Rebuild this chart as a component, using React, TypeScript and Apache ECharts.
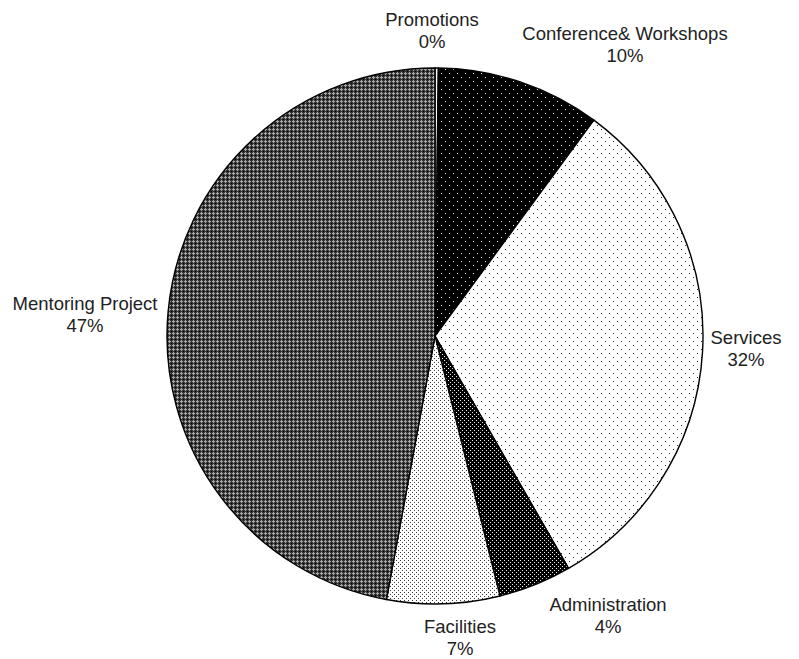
import React, { useEffect, useRef } from "react";
import * as echarts from "echarts";

const categories = [
  "Promotions",
  "Conference& Workshops",
  "Services",
  "Administration",
  "Facilities",
  "Mentoring Project",
];
const values = [0.2, 9.9, 31.6, 4.4, 6.8, 47.1];

// label anchor points (layout only)
const labelAnchors: [number, number][] = [
  [432, 30],
  [625, 44],
  [746, 348],
  [608, 615],
  [460, 637],
  [85, 314],
];

type Dot = [number, number];
function makeTile(size: number, bg: string, fg: string, dots: Dot[]) {
  const c = document.createElement("canvas");
  c.width = size;
  c.height = size;
  const ctx = c.getContext("2d")!;
  ctx.fillStyle = bg;
  ctx.fillRect(0, 0, size, size);
  ctx.fillStyle = fg;
  dots.forEach(([x, y]) => ctx.fillRect(x, y, 1, 1));
  return { image: c, repeat: "repeat", imageWidth: size, imageHeight: size } as any;
}

function makeMentoring() {
  const c = document.createElement("canvas");
  c.width = 4;
  c.height = 4;
  const ctx = c.getContext("2d")!;
  const map = ["DLDD", "LLLD", "DLDD", "DDDK"];
  const col: Record<string, string> = { D: "#333333", L: "#a8a8a8", K: "#000000" };
  map.forEach((row, y) =>
    row.split("").forEach((ch, x) => {
      ctx.fillStyle = col[ch];
      ctx.fillRect(x, y, 1, 1);
    })
  );
  return { image: c, repeat: "repeat", imageWidth: 4, imageHeight: 4 } as any;
}

export default function App() {
  const ref = useRef<HTMLDivElement>(null);
  useEffect(() => {
    if (!ref.current) return;
    const chart = echarts.init(ref.current, undefined, { renderer: "svg" });
    const patterns = [
      "#ffffff",
      makeTile(8, "#000000", "#f0f0f0", [[1, 1], [5, 5]]),
      makeTile(8, "#ffffff", "#2a2a2a", [[1, 1], [5, 5]]),
      makeTile(4, "#000000", "#e8e8e8", [[0, 0], [2, 2]]),
      makeTile(4, "#ffffff", "#3a3a3a", [[0, 0], [2, 2]]),
      makeMentoring(),
    ];
    chart.setOption({
      animation: false,
      backgroundColor: "#ffffff",
      series: [
        {
          type: "pie",
          center: [435, 336],
          radius: 268,
          startAngle: 90,
          clockwise: true,
          avoidLabelOverlap: false,
          data: categories.map((name, i) => ({
            name,
            value: values[i],
            itemStyle: { color: patterns[i] },
          })),
          itemStyle: { borderColor: "#000000", borderWidth: 1.4 },
          label: {
            show: true,
            position: "outside",
            formatter: (p: any) => `${p.name}\n${Math.round(p.percent)}%`,
            fontFamily: "'Liberation Sans', Arial, sans-serif",
            fontSize: 18.5,
            lineHeight: 22,
            color: "#222222",
            align: "center",
          },
          labelLine: { show: false },
          labelLayout: (params: any) => {
            const a = labelAnchors[params.dataIndex];
            return { x: a[0], y: a[1], align: "center", verticalAlign: "middle" };
          },
          emphasis: { disabled: true },
        },
      ],
    });
    return () => chart.dispose();
  }, []);
  return (
    <div
      ref={ref}
      style={{ position: "absolute", left: 0, top: 0, width: 799, height: 659 }}
    />
  );
}
